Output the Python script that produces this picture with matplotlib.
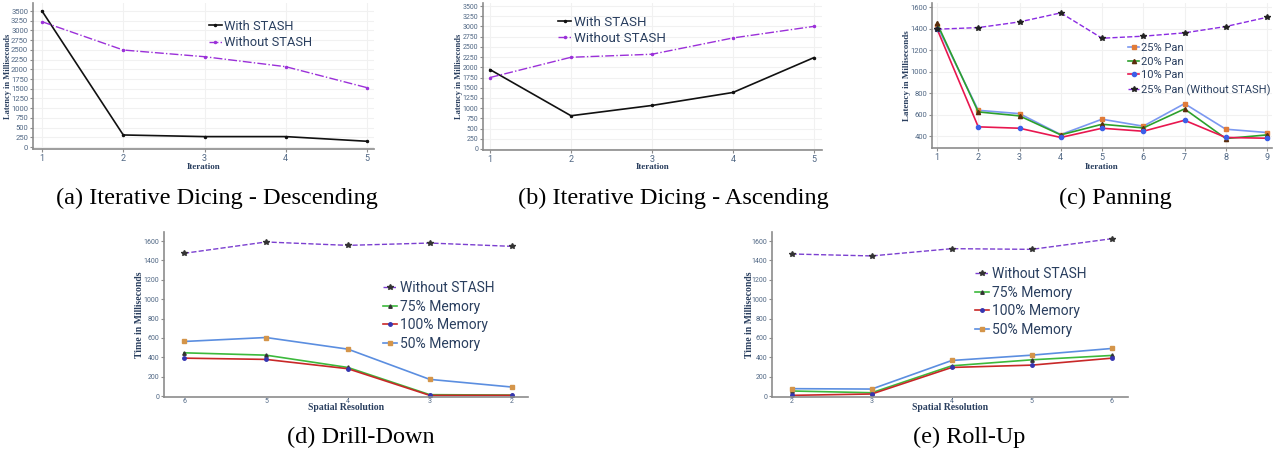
import matplotlib
matplotlib.use("Agg")
import matplotlib.pyplot as plt

# ---- data ----
iters5 = [1, 2, 3, 4, 5]
desc_with = [3500, 310, 268, 268, 148]
desc_without = [3225, 2496, 2324, 2067, 1527]
asc_with = [1945, 814, 1066, 1384, 2238]
asc_without = [1750, 2246, 2320, 2719, 3003]

iters9 = [1, 2, 3, 4, 5, 6, 7, 8, 9]
pan25 = [1430, 641, 610, 415, 558, 493, 703, 465, 434]
pan20 = [1452, 626, 589, 412, 511, 477, 654, 378, 412]
pan10 = [1400, 487, 474, 388, 474, 446, 548, 388, 381]
pan25_without = [1396, 1411, 1464, 1548, 1312, 1331, 1362, 1421, 1507]

drill_res = ["6", "5", "4", "3", "2"]
drill_without = [1473, 1590, 1555, 1579, 1545]
drill_m75 = [446, 422, 295, 14, 10]
drill_m100 = [391, 378, 282, 7, 7]
drill_m50 = [563, 604, 484, 172, 93]

roll_res = ["2", "3", "4", "5", "6"]
roll_without = [1466, 1446, 1521, 1514, 1624]
roll_m75 = [52, 34, 312, 374, 419]
roll_m100 = [7, 21, 295, 319, 391]
roll_m50 = [76, 72, 367, 422, 491]

captions = ["(a) Iterative Dicing - Descending", "(b) Iterative Dicing - Ascending",
            "(c) Panning", "(d) Drill-Down", "(e) Roll-Up"]

W, H = 1280, 457
TICK = "#506784"
NAVY = "#2a3f5f"
SANS = ["Roboto", "DejaVu Sans"]
SERIF = ["Liberation Serif", "DejaVu Serif"]

fig = plt.figure(figsize=(W / 100, H / 100), dpi=100)


def add_ax(l, t, r, b):
    ax = fig.add_axes([l / W, 1 - b / H, (r - l) / W, (b - t) / H])
    ax.box_px = (l, t, r, b)
    return ax


def style(ax, tsize, grid=True):
    for s in ["top", "right"]:
        ax.spines[s].set_visible(False)
    for s in ["left", "bottom"]:
        ax.spines[s].set_color("#8c8c8c")
        ax.spines[s].set_linewidth(1.2)
    ax.tick_params(colors="#8c8c8c", labelcolor=TICK, labelsize=tsize, length=2, width=0.8, pad=1.5)
    for lab in ax.get_xticklabels() + ax.get_yticklabels():
        lab.set_family(SANS)
    if grid:
        ax.grid(color="#f1f1f1", linewidth=0.8)
        ax.set_axisbelow(True)


def labels(ax, ytext, ysize, ylx, xtext, xsize, xly):
    l, t, r, b = ax.box_px
    ax.set_ylabel(ytext, family=SERIF, weight="bold", size=ysize, color=NAVY)
    ax.yaxis.set_label_coords((ylx - l) / (r - l), 0.5)
    ax.set_xlabel(xtext, family=SERIF, weight="bold", size=xsize, color=NAVY)
    ax.xaxis.set_label_coords(0.5, (b - xly) / (b - t))
    ax.xaxis.label.set_va("center")
    ax.yaxis.label.set_va("center")


def legend(ax, x, y, size, spacing):
    leg = ax.legend(loc="upper left", bbox_to_anchor=(x / W, 1 - y / H),
                    bbox_transform=fig.transFigure, frameon=False, borderpad=0,
                    borderaxespad=0, handlelength=1.0, handletextpad=0.2,
                    labelspacing=spacing, prop={"family": SANS, "size": size})
    for t in leg.get_texts():
        t.set_color(NAVY)


# (a) descending
ax = add_ax(33, 3, 374, 149)
ax.plot(iters5, desc_with, color="#111111", lw=1.2, marker="o", ms=1.5, label="With STASH")
ax.plot(iters5, desc_without, color="#9b30d9", lw=1.0, ls="-.", marker="o", ms=1.5,
        label="Without STASH")
ax.set_xlim(0.889, 5.086)
ax.set_ylim(-51, 3706)
ax.set_xticks(iters5)
ax.set_yticks(range(0, 3501, 250))
style(ax, 5.5)
ax.tick_params(axis="x", labelsize=6.5)
labels(ax, "Latency in Milliseconds", 6, 8, "Iteration", 6.5, 167)
legend(ax, 209, 20, 9.3, 0.25)

# (b) ascending
ax = add_ax(483, 3, 822, 150)
ax.plot(iters5, asc_with, color="#111111", lw=1.2, marker="o", ms=1.5, label="With STASH")
ax.plot(iters5, asc_without, color="#9b30d9", lw=1.0, ls="-.", marker="o", ms=1.5,
        label="Without STASH")
ax.set_xlim(0.914, 5.099)
ax.set_ylim(-25, 3575)
ax.set_xticks(iters5)
ax.set_yticks(range(0, 3501, 250))
style(ax, 5)
ax.tick_params(axis="x", labelsize=6.5)
labels(ax, "Latency in Milliseconds", 6, 459, "Iteration", 6.5, 167)
legend(ax, 558, 16, 9.6, 0.2)

# (c) panning
ax = add_ax(932, 3, 1272, 148)
ax.plot(iters9, pan25, color="#7b98f0", lw=1.2, marker="s", ms=3, mfc="#e07b39", mec="#e07b39",
        label="25% Pan")
ax.plot(iters9, pan20, color="#2ca02c", lw=1.2, marker="^", ms=3, mfc="#5a2d0c", mec="#5a2d0c",
        label="20% Pan")
ax.plot(iters9, pan10, color="#e8174f", lw=1.2, marker="o", ms=3, mfc="#3b5ee8", mec="#3b5ee8",
        label="10% Pan")
ax.plot(iters9, pan25_without, color="#8a2be2", lw=1.0, ls="--", marker="*", ms=4,
        mfc="#222222", mec="#222222", label="25% Pan (Without STASH)")
ax.set_xlim(0.879, 9.12)
ax.set_ylim(290, 1640)
ax.set_xticks(iters9)
ax.set_yticks(range(400, 1601, 200))
style(ax, 5.5)
ax.tick_params(axis="x", labelsize=6.5)
labels(ax, "Latency in Milliseconds", 6.5, 907, "Iteration", 6.5, 167)
legend(ax, 1128, 43, 8.0, 0.33)

# (d) drill-down and (e) roll-up
for box, res, wo, m75, m100, m50, lx, ly, ylx in [
        ((164, 232, 528, 397), drill_res, drill_without, drill_m75, drill_m100, drill_m50, 383, 281, 140),
        ((772, 232, 1128, 397), roll_res, roll_without, roll_m75, roll_m100, roll_m50, 975, 267, 749)]:
    ax = add_ax(*box)
    xs = list(range(len(res)))
    ax.plot(xs, wo, color="#7b3fd0", lw=1.0, ls="--", marker="*", ms=4, mfc="#333333",
            mec="#333333", label="Without STASH")
    ax.plot(xs, m75, color="#3cb93c", lw=1.2, marker="^", ms=2.5, mfc="#333333", mec="#333333",
            label="75% Memory")
    ax.plot(xs, m100, color="#c82828", lw=1.2, marker="o", ms=2.5, mfc="#3535b0", mec="#3535b0",
            label="100% Memory")
    ax.plot(xs, m50, color="#5b8ee0", lw=1.2, marker="s", ms=2.5, mfc="#d4954a", mec="#d4954a",
            label="50% Memory")
    ax.set_xlim(-0.245, 4.2)
    ax.set_ylim(-10, 1693)
    ax.set_xticks(xs)
    ax.set_xticklabels(res)
    ax.set_yticks(range(0, 1601, 200))
    style(ax, 5, grid=False)
    ax.tick_params(axis="x", labelsize=5, pad=0.5, length=0)
    labels(ax, "Time in Milliseconds", 7, ylx, "Spatial Resolution", 7, 408)
    legend(ax, lx, ly, 10, 0.33)

# sub-figure captions
cap_pos = [(217, 198), (673, 198), (1115, 198), (361, 437), (969, 437)]
for text, (cx, cy) in zip(captions, cap_pos):
    fig.text(cx / W, 1 - cy / H, text, ha="center", va="center", family=SERIF, size=17.5, color="black")

fig.savefig("out.png", dpi=100)
